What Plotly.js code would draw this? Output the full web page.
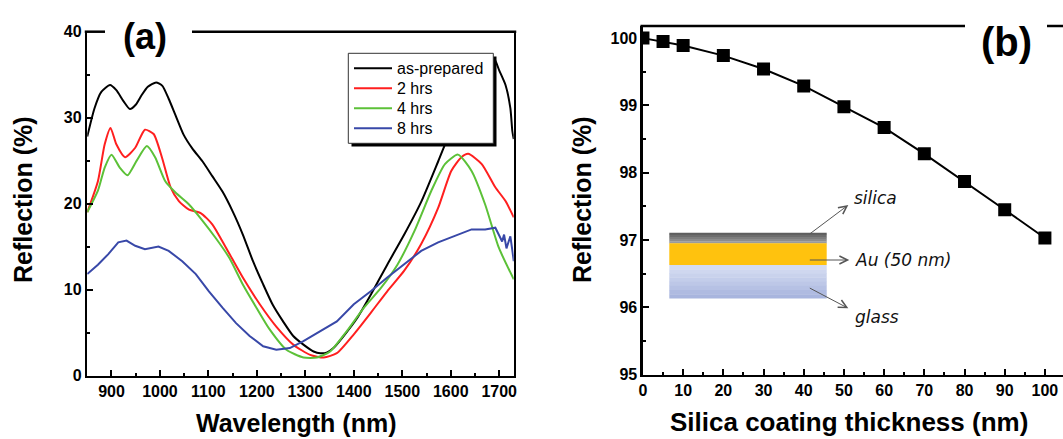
<!DOCTYPE html>
<html>
<head>
<meta charset="utf-8">
<script src="https://cdn.plot.ly/plotly-3.0.1.min.js"></script>
<style>
html,body{margin:0;padding:0;background:#fff;overflow:hidden;}
#chart{width:1063px;height:439px;}
</style>
</head>
<body>
<div id="chart"></div>
<script>
// ---------- Panel (a) data: reflection spectra ----------
const seriesNames = ["as-prepared", "2 hrs", "4 hrs", "8 hrs"];

const wlAsPrepared = [850,865,879,897,910,925,938,950,962,975,992,1005,1018,1032,1049,1067,1088,1108,1129,1150,1171,1192,1213,1233,1254,1275,1296,1317,1331,1345,1358,1379,1407,1435,1469,1504,1539,1574,1600,1630,1660,1680,1690,1700,1713,1723,1727,1730];
const rAsPrepared  = [27.8,31.1,33.0,33.8,33.2,31.9,31.0,31.5,32.6,33.6,34.1,33.7,32.2,30.3,28.0,26.4,24.9,23.2,21.4,19.1,16.4,13.3,10.6,8.2,6.3,4.6,3.6,2.8,2.6,2.7,3.2,4.6,6.7,9.4,12.9,16.4,20.2,24.9,28.5,32.0,35.0,36.6,36.8,35.5,33.8,31.1,28.5,27.5];

const wl2h = [850,872,886,898,910,928,949,969,987,1004,1022,1039,1060,1084,1108,1136,1171,1206,1240,1275,1310,1338,1365,1400,1435,1469,1504,1539,1574,1601,1622,1636,1664,1692,1713,1730];
const r2h  = [19.0,22.6,26.9,28.8,26.9,25.4,26.5,28.6,28.1,25.4,21.9,20.3,19.3,18.9,17.6,14.9,11.4,8.3,5.7,3.6,2.4,2.1,2.6,4.8,7.3,9.8,12.2,15.3,19.5,23.8,25.4,25.8,24.6,21.9,20.3,18.4];

const wl4h = [850,872,886,900,917,933,952,973,990,1011,1032,1060,1088,1115,1143,1171,1199,1226,1261,1296,1324,1351,1386,1421,1456,1490,1525,1560,1588,1615,1643,1671,1699,1730];
const r4h  = [19.0,21.5,24.2,25.7,24.2,23.3,25.0,26.7,25.4,22.6,21.3,19.9,18.0,16.0,13.7,10.6,7.9,5.4,3.0,2.1,2.1,2.8,5.2,7.9,10.2,12.9,16.8,21.5,24.6,25.7,23.8,19.9,14.9,11.2];

const wl8h = [850,872,893,914,931,949,969,997,1018,1046,1074,1101,1129,1157,1185,1213,1240,1268,1296,1331,1365,1400,1435,1469,1504,1539,1574,1608,1643,1671,1692,1700,1706,1710,1715,1719,1723,1727,1730];
const r8h  = [11.8,12.9,14.1,15.5,15.7,15.1,14.7,15.0,14.5,13.3,11.8,9.8,7.9,6.1,4.6,3.4,3.0,3.2,4.0,5.2,6.3,8.3,9.8,11.4,12.9,14.5,15.5,16.2,17.0,17.0,17.2,16.3,15.6,16.4,14.8,15.5,16.2,14.6,13.3];

// ---------- Panel (b) data ----------
const thickness  = [0,5,10,20,30,40,50,60,70,80,90,100];
const reflection = [100.0,99.95,99.89,99.74,99.54,99.29,98.98,98.67,98.28,97.87,97.45,97.03];

// ---------- Tick labels ----------
const xTicksA = [900,1000,1100,1200,1300,1400,1500,1600,1700];
const yTicksA = [0,10,20,30,40];
const xTicksB = [0,10,20,30,40,50,60,70,80,90,100];
const yTicksB = [95,96,97,98,99,100];

const colors = ["#000000", "#ff1f1f", "#5cc138", "#3848a8"];

// ---------- helpers (pixel -> paper) ----------
const W = 1063, H = 439;
const px = v => v / W;
const py = v => 1 - v / H;

const lineStyle = (c) => ({color: c, width: 2, shape: 'spline', smoothing: 0.6});
const legendIds = ['legend', 'legend2', 'legend3', 'legend4'];

const traces = [
  {x: wlAsPrepared, y: rAsPrepared, name: seriesNames[0], legend: legendIds[0], mode: 'lines', line: lineStyle(colors[0]), xaxis: 'x', yaxis: 'y'},
  {x: wl2h, y: r2h, name: seriesNames[1], legend: legendIds[1], mode: 'lines', line: lineStyle(colors[1]), xaxis: 'x', yaxis: 'y'},
  {x: wl4h, y: r4h, name: seriesNames[2], legend: legendIds[2], mode: 'lines', line: lineStyle(colors[2]), xaxis: 'x', yaxis: 'y'},
  {x: wl8h, y: r8h, name: seriesNames[3], legend: legendIds[3], mode: 'lines', line: {color: colors[3], width: 2}, xaxis: 'x', yaxis: 'y'},
  {x: thickness, y: reflection, name: 'silica', mode: 'lines+markers', showlegend: false,
   line: {color: '#000', width: 2}, marker: {symbol: 'square', size: 13, color: '#000'}, xaxis: 'x2', yaxis: 'y2'}
];

const tickFont = {family: 'Liberation Sans, Arial, sans-serif', size: 16, weight: 'bold', color: '#000'};
const LW = 2.5;
const baseAxis = {
  showline: true, linewidth: LW, linecolor: '#000', showgrid: false, zeroline: false,
  ticks: 'inside', ticklen: 6, tickwidth: 2, tickcolor: '#000', tickfont: tickFont
};

const layout = {
  width: W, height: H,
  margin: {l: 0, r: 0, t: 0, b: 0},
  paper_bgcolor: '#fff', plot_bgcolor: '#fff',
  showlegend: true,
  xaxis: Object.assign({}, baseAxis, {domain: [px(86 + LW/2), px(515 - LW/2)], range: [850, 1730], anchor: 'y',
          tickvals: xTicksA, minor: {ticks: 'inside', ticklen: 3, tickwidth: 2, tickcolor: '#000', dtick: 50, tick0: 850}}),
  yaxis: Object.assign({}, baseAxis, {domain: [py(374.3 - LW/2 + LW), py(31.7)], range: [0, 40], anchor: 'x', mirror: true,
          tickvals: yTicksA, minor: {ticks: 'inside', ticklen: 3, tickwidth: 2, tickcolor: '#000', dtick: 5, tick0: 0}}),
  xaxis2: Object.assign({}, baseAxis, {domain: [px(641.7 + LW/2), 1], range: [0, 104.5], anchor: 'y2',
          tickvals: xTicksB, minor: {ticks: 'inside', ticklen: 3, tickwidth: 2, tickcolor: '#000', dtick: 5, tick0: 0}}),
  yaxis2: Object.assign({}, baseAxis, {domain: [py(373.3 - LW/2 + LW), py(26)], range: [95, 100.18], anchor: 'x2',
          tickvals: yTicksB, minor: {ticks: 'inside', ticklen: 3, tickwidth: 2, tickcolor: '#000', dtick: 0.5, tick0: 95}}),
  shapes: [],
  annotations: []
};

// one legend per row so the rows sit exactly where the reference has them
const legendRows = [68.3, 88.3, 108.3, 128.3];
legendIds.forEach((id, i) => {
  layout[id] = {x: px(349), y: py(legendRows[i]), xanchor: 'left', yanchor: 'middle', bgcolor: 'rgba(0,0,0,0)', borderwidth: 0,
                itemwidth: 38, font: {family: 'Liberation Sans, Arial, sans-serif', size: 16, color: '#000'}};
});

// top borders with gaps for panel labels
const topLine = (x0, x1, y) => ({type: 'line', xref: 'paper', yref: 'paper', x0: px(x0), x1: px(x1), y0: py(y), y1: py(y),
                                 line: {color: '#000', width: LW}, layer: 'above'});
layout.shapes.push(topLine(84.75, 105, 31.7), topLine(192, 516.25, 31.7));
layout.shapes.push(topLine(640.45, 965, 26), topLine(1047, 1063, 26));

// legend box with shadow
const rect = (x0, y0, x1, y1, fill, lc, lw) => ({type: 'rect', xref: 'paper', yref: 'paper',
  x0: px(x0), x1: px(x1), y0: py(y1), y1: py(y0), fillcolor: fill, line: {color: lc, width: lw}, layer: 'above'});
layout.shapes.push(rect(351.5, 56.5, 496.5, 146.5, '#000', '#000', 0));
layout.shapes.push(rect(348.3, 53.3, 493.3, 143.3, '#fff', '#333', 1));

// inset: layered structure
const grays = ['#5e5e5e', '#6d6d6d', '#7d7d7d', '#8c8c8c', '#9b9b9b'];
const gTop = 232.7, gBot = 243.3, gStep = (gBot - gTop) / grays.length;
grays.forEach((c, i) => layout.shapes.push(rect(669.3, gTop + i * gStep, 826.7, gTop + (i + 1) * gStep + 0.3, c, c, 0)));
layout.shapes.push(rect(669.3, 243.3, 826.7, 265, '#ffc20e', '#ffc20e', 0));
const blues = ['#d5dcf1', '#cfd7ef', '#c9d2ec', '#c3cdea', '#bdc7e7', '#b6c1e4', '#afbbe1', '#a8b5de'];
const bTop = 265, bBot = 298.3, bStep = (bBot - bTop) / blues.length;
blues.forEach((c, i) => layout.shapes.push(rect(669.3, bTop + i * bStep, 826.7, bTop + (i + 1) * bStep + 0.3, c, c, 0)));

// arrows
const arrow = (hx, hy, tx, ty) => ({xref: 'paper', yref: 'paper', x: px(hx), y: py(hy), ax: tx - hx, ay: ty - hy,
  text: '', showarrow: true, arrowhead: 5, arrowsize: 1.6, arrowwidth: 1, arrowcolor: '#555', standoff: 0, startstandoff: 0});
layout.annotations.push(arrow(848.3, 205, 808.3, 235), arrow(849.3, 260, 808.3, 260), arrow(848.3, 308.3, 808.3, 287.3));

const insetFont = {family: 'DejaVu Sans, sans-serif', size: 17, style: 'italic', color: '#111'};
const label = (text, x, y, font, xanchor, extra) => Object.assign({xref: 'paper', yref: 'paper', x: px(x), y: py(y), text: text,
  showarrow: false, xanchor: xanchor || 'left', yanchor: 'middle', font: font}, extra || {});
layout.annotations.push(label('silica', 852, 198, insetFont), label('Au (50 nm)', 853, 260, insetFont), label('glass', 853, 316.7, insetFont));

// panel labels
const bold = (s) => ({family: 'Liberation Sans, Arial, sans-serif', size: s, weight: 'bold', color: '#000'});
layout.annotations.push(label('(a)', 145, 36.7, bold(36), 'center'));
layout.annotations.push(label('(b)', 1006, 42.5, bold(40), 'center'));

// axis titles
layout.annotations.push(label('Wavelength (nm)', 296, 438.5, bold(25), 'center', {yanchor: 'bottom'}));
layout.annotations.push(label('Silica coating thickness (nm)', 848.5, 438.5, bold(26), 'center', {yanchor: 'bottom'}));
layout.annotations.push(label('Reflection (%)', 23, 200, bold(25), 'center', {textangle: -90}));
layout.annotations.push(label('Reflection (%)', 582, 200, bold(25), 'center', {textangle: -90}));

Plotly.newPlot('chart', traces, layout, {displayModeBar: false, staticPlot: true});
</script>
</body>
</html>
